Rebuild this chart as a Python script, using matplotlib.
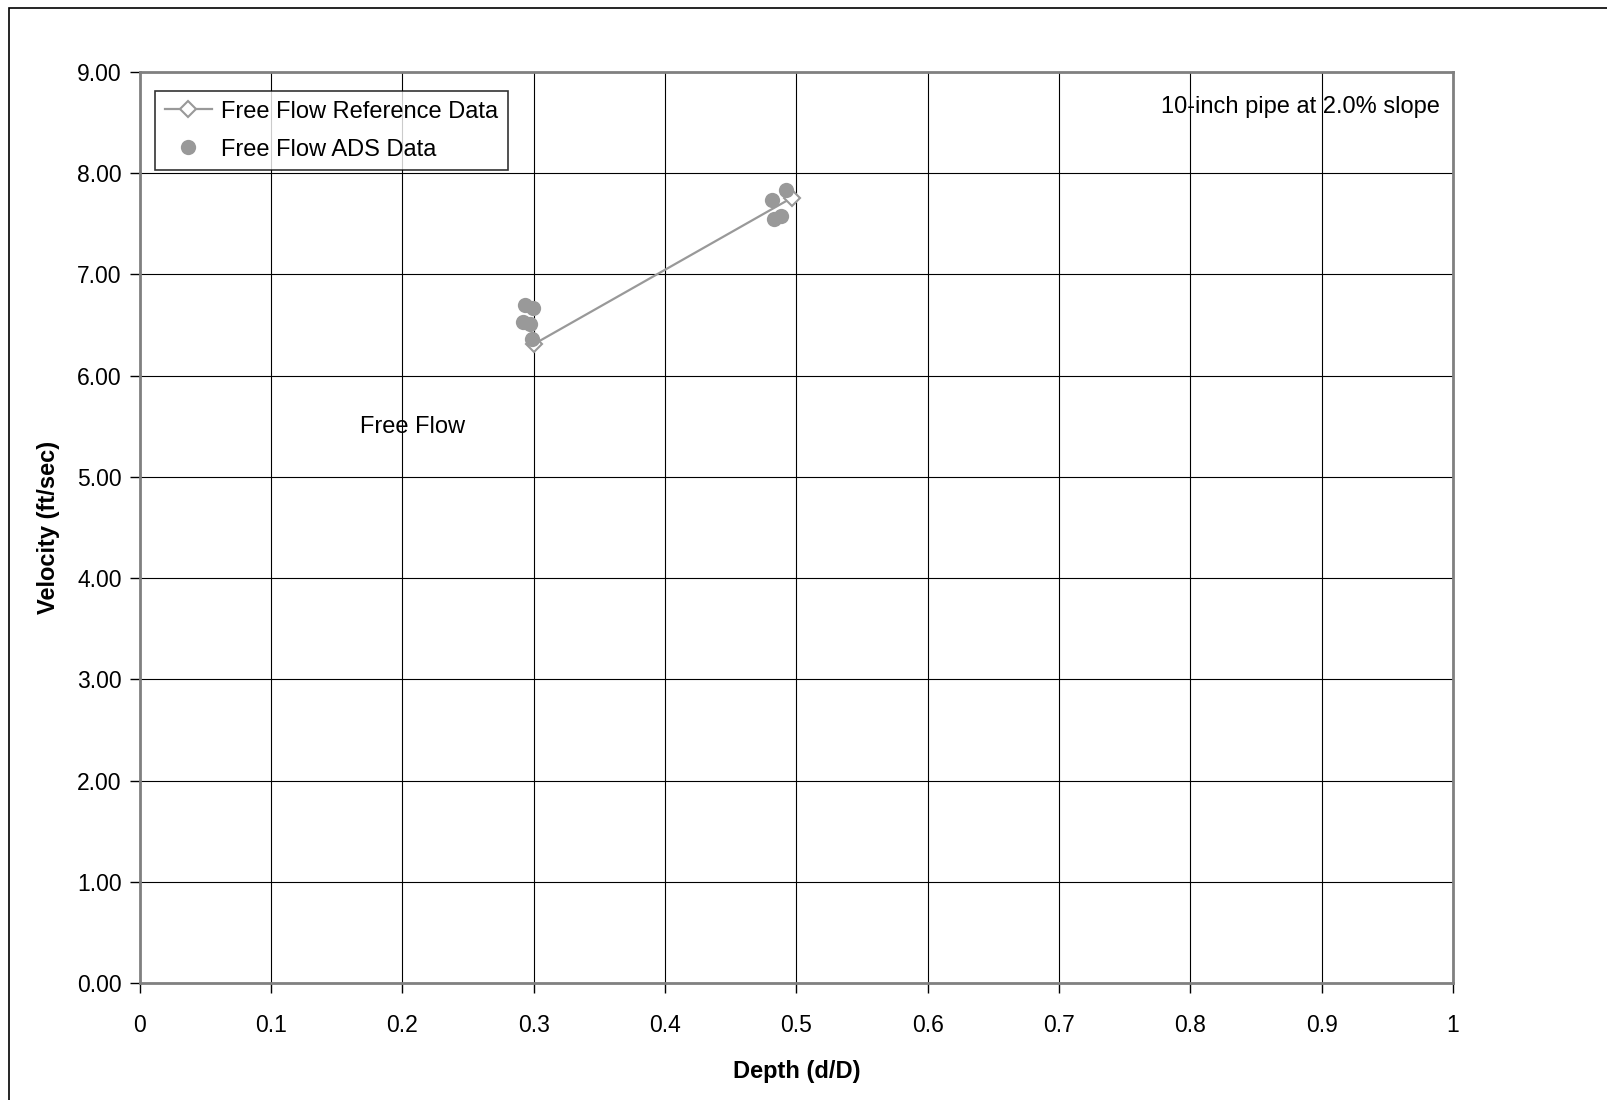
import numpy as np
import matplotlib.pyplot as plt
from matplotlib.patches import Rectangle

plt.rcParams['font.family'] = ['Liberation Sans', 'DejaVu Sans']

# Reference curve (Free Flow Reference Data)
ref_depth = [0.300, 0.497]
ref_vel = [6.31, 7.76]

# ADS measured points (Free Flow ADS Data)
ads_depth = [0.2935, 0.2996, 0.2920, 0.2973, 0.2990, 0.4925, 0.4815, 0.4830, 0.4880]
ads_vel = [6.70, 6.67, 6.53, 6.51, 6.36, 7.83, 7.74, 7.55, 7.58]

x_ticks = [0, 0.1, 0.2, 0.3, 0.4, 0.5, 0.6, 0.7, 0.8, 0.9, 1]
x_labels = ['0', '0.1', '0.2', '0.3', '0.4', '0.5', '0.6', '0.7', '0.8', '0.9', '1']
y_ticks = np.arange(0, 9.5, 1.0)

fig = plt.figure(figsize=(16.08, 11.0), dpi=100)
ax = fig.add_axes([0.0868, 0.1064, 0.8168, 0.8281])

# outer chart border (left/top visible)
fig.patches.append(Rectangle((9 / 1608, -0.05), 1.2, 1 - 8 / 1100 + 0.05,
                             transform=fig.transFigure, fill=False,
                             edgecolor='black', linewidth=1.2))

ax.plot(ref_depth, ref_vel, '-', color='#999999', linewidth=1.6,
        marker='D', markersize=8, markerfacecolor='white',
        markeredgecolor='#999999', markeredgewidth=1.5,
        label='Free Flow Reference Data', zorder=3)
ax.plot(ads_depth, ads_vel, 'o', color='#999999', markersize=11,
        markeredgewidth=0, label='Free Flow ADS Data', zorder=4)

ax.set_xlim(0, 1)
ax.set_ylim(0, 9)
ax.set_xticks(x_ticks)
ax.set_xticklabels(x_labels)
ax.set_yticks(y_ticks)
ax.set_yticklabels(['%.2f' % v for v in y_ticks])
ax.grid(True, color='black', linewidth=0.8)
ax.set_axisbelow(True)
for s in ax.spines.values():
    s.set_color('#808080')
    s.set_linewidth(2)
ax.tick_params(axis='both', labelsize=16.5, length=7, width=1, color='black',
               direction='out')
ax.tick_params(axis='x', pad=15)
ax.tick_params(axis='y', pad=6)

ax.set_xlabel('Depth (d/D)', fontsize=17, fontweight='bold', labelpad=17)
ax.set_ylabel('Velocity (ft/sec)', fontsize=17, fontweight='bold', labelpad=12)

ax.text(0.168, 5.49, 'Free Flow', fontsize=17, va='center', ha='left')
ax.text(0.990, 8.655, '10-inch pipe at 2.0% slope', fontsize=17,
        va='center', ha='right')

leg = ax.legend(loc='upper left', bbox_to_anchor=(0.012, 0.979), fontsize=17,
                frameon=True, fancybox=False, edgecolor='black',
                borderaxespad=0, handlelength=2.0, handletextpad=0.4,
                borderpad=0.4, labelspacing=0.68)
leg.get_frame().set_linewidth(1.2)

fig.savefig('out.png', dpi=100, facecolor='white')
